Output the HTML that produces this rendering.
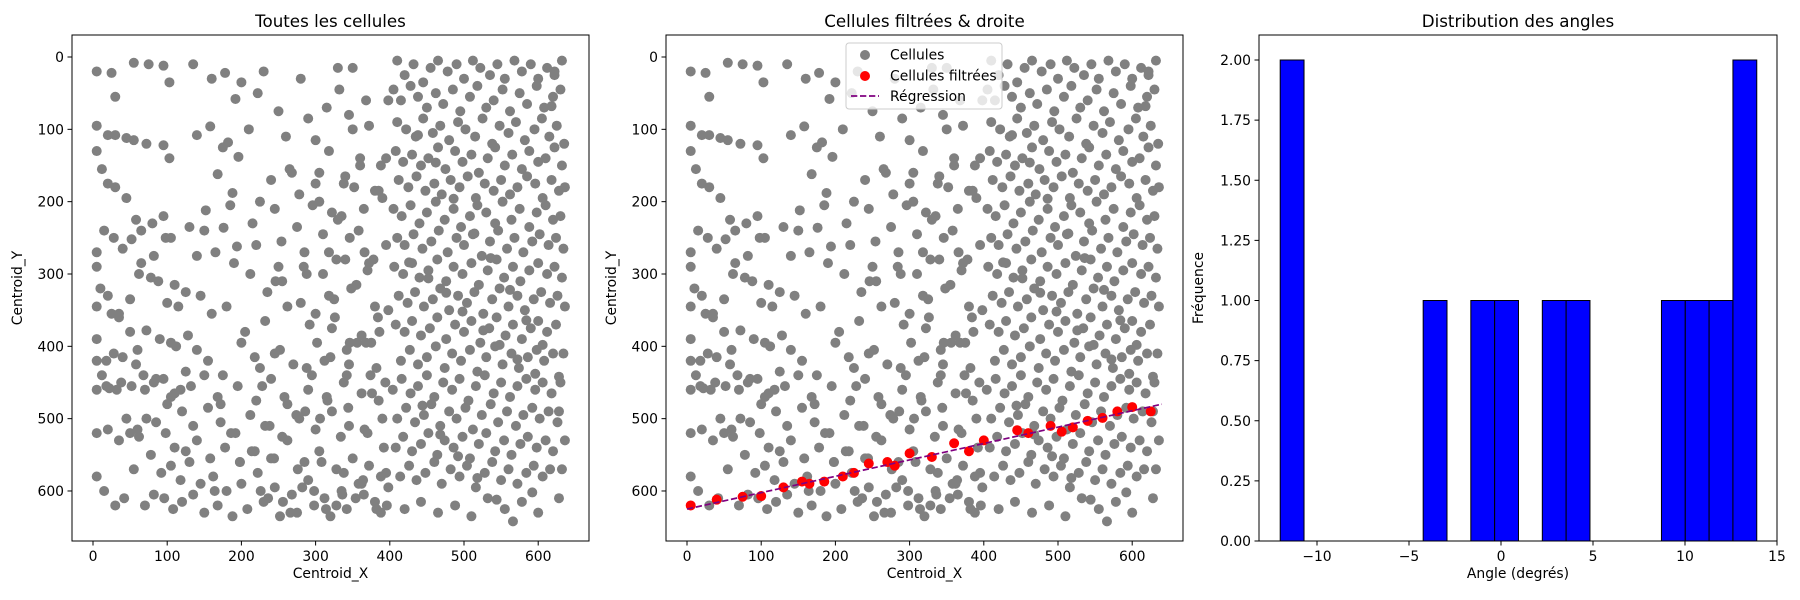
<!DOCTYPE html>
<html><head><meta charset="utf-8">
<style>
html,body{margin:0;padding:0;background:#fff;}
svg{display:block;font-family:"DejaVu Sans","Liberation Sans",sans-serif;}
</style></head>
<body>
<svg id="fig" width="1800" height="600" viewBox="0 0 1800 600" xmlns="http://www.w3.org/2000/svg"></svg>
<script>
// ---- data ----
const cellX = [5,25,30,55,75,95,103,135,160,200,230,280,330,5,20,30,45,55,72,95,103,140,175,210,260,300,350,
5,12,20,30,45,58,65,80,95,105,130,150,185,215,245,275,305,335,365,
5,15,28,40,52,65,82,98,110,125,140,165,190,220,250,285,310,340,370,
5,20,35,50,62,78,88,100,115,128,145,160,180,205,235,255,280,300,325,355,380,
5,10,25,35,50,60,72,90,105,112,125,140,155,175,200,225,245,270,295,320,345,375,
5,18,28,40,58,68,82,95,105,118,132,150,168,195,220,240,262,290,315,338,362,385,
5,12,22,38,52,70,85,100,110,120,135,155,172,192,212,232,255,278,300,322,345,370,390,
5,18,32,45,60,72,85,98,110,125,140,158,178,198,218,240,262,285,305,328,350,372,395,
5,20,35,50,62,78,92,105,118,130,145,162,180,200,222,245,268,290,312,335,358,380,398,
5,15,30,42,55,70,82,96,108,120,135,150,168,188,208,230,252,275,298,320,342,365,388,
410,420,432,445,455,465,478,490,500,512,522,535,545,555,568,578,590,600,612,622,632,
405,415,428,438,450,462,472,485,495,508,518,530,540,552,562,575,585,598,608,620,630,
410,422,435,445,458,468,480,492,502,515,525,538,548,560,570,582,595,605,615,625,635,
408,418,430,442,452,465,475,488,498,510,520,532,542,555,565,578,588,600,610,622,632,
412,425,436,448,460,470,482,494,505,516,528,540,550,562,572,585,596,606,618,628,636,
405,416,428,440,450,462,474,486,496,508,518,530,542,552,564,575,588,598,610,620,630,
410,420,432,444,456,466,478,490,500,512,524,535,546,558,568,580,592,602,614,624,634,
406,418,430,440,452,464,476,486,498,510,520,532,544,554,566,576,588,600,612,622,632,
412,424,434,446,458,468,480,492,504,514,526,538,548,560,572,582,594,604,616,626,636,
408,420,430,442,454,464,476,488,500,510,522,534,544,556,566,578,590,600,612,624,634,
415,427,438,450,462,474,484,496,508,518,530,542,552,564,574,586,598,608,620,630,
404,416,428,438,450,460,472,484,494,506,516,528,540,550,562,572,584,596,606,618,628,
410,422,434,446,456,468,480,490,502,512,524,536,546,558,570,580,592,602,614,626,636,
408,418,430,442,452,464,474,486,498,508,520,530,542,554,564,576,586,598,610,620,632,
414,426,436,448,460,470,482,494,504,516,528,538,550,560,572,584,594,606,616,628,
420,442,465,488,510,532,555,578,600,622,
332,350,368,388,300,318,340,360,380,395,310,328,346,366,384,302,322,342,362,382,398,
// extra mid-region points
250,290,315,345,372,395,265,305,338,360,385,225,278,322,352,390,240,268,296,330,358,378,
212,246,284,318,348,372,398,232,262,292,326,356,386,218,252,288,312,342,368,394,
228,258,286,316,344,376,238,274,306,334,366,392,214,244,276,308,338,362,388,
226,256,282,314,336,364,396,236,266,298,328,354,382,222,254,288,318,346,374,
172,186,198,164,178,192,158,182,196,168,188,152,176,194,
426,452,476,498,526,548,572,596,618,438,462,486,514,536,562,584,606,628,
444,468,492,518,544,566,592,614,434,458,484,506,532,556,580,604,626];
const cellY = [20,22,55,8,10,12,35,10,30,35,20,30,15,95,108,108,112,115,120,122,140,108,125,100,110,115,100,
130,155,175,180,195,225,240,230,220,250,235,240,205,230,210,235,200,220,210,
270,240,250,265,252,285,275,250,315,325,275,270,285,260,290,270,300,280,295,
290,330,355,335,300,305,310,340,345,385,330,355,345,380,325,310,340,355,335,315,345,
345,320,355,360,380,405,378,390,395,400,435,405,420,440,395,430,410,425,440,415,425,395,
390,420,410,415,425,440,450,445,470,460,455,440,470,455,475,445,480,460,470,450,465,475,
420,440,458,450,455,460,445,480,465,490,510,485,505,520,495,510,525,500,515,490,510,520,500,
460,455,460,500,515,500,505,520,540,545,530,555,540,560,545,555,530,560,545,570,555,565,575,
520,515,530,520,525,550,575,565,585,560,590,580,600,590,575,595,605,585,610,600,590,615,595,
580,600,620,610,570,620,605,610,625,615,605,630,620,635,625,615,635,630,620,635,625,605,630,
5,25,10,35,15,5,20,10,30,5,15,25,10,30,5,20,10,30,15,25,5,
45,60,40,55,70,50,65,45,75,55,40,70,60,45,75,50,65,40,70,55,45,
90,100,110,85,105,95,115,90,100,110,85,120,95,105,90,115,100,85,110,95,120,
130,145,135,150,140,125,155,130,145,135,160,140,125,150,135,155,130,145,140,125,150,
170,180,165,185,175,190,170,180,165,195,175,185,170,190,180,165,175,195,170,185,180,
210,220,205,230,215,200,225,210,235,220,205,215,230,200,225,210,235,215,205,225,220,
250,260,245,265,255,240,270,250,260,245,275,255,240,265,250,270,255,245,260,250,265,
290,300,285,305,295,280,310,290,300,285,315,295,280,305,290,310,295,285,300,290,305,
330,340,325,345,335,320,350,330,340,325,355,335,320,345,330,350,335,325,340,330,345,
370,380,365,385,375,360,390,370,380,365,395,375,360,385,370,390,375,365,380,370,
410,420,405,425,415,400,430,410,420,405,435,415,400,425,410,430,415,405,420,410,
450,460,445,465,455,440,470,450,460,445,475,455,440,465,450,470,455,445,460,450,465,
490,500,485,505,495,480,510,490,500,485,515,495,480,505,490,510,495,485,500,490,505,
530,540,525,545,535,520,550,530,540,525,555,535,520,545,530,550,535,525,540,530,545,
570,580,565,585,575,560,590,570,580,565,595,575,560,585,570,590,575,565,580,570,
610,625,615,630,620,635,610,625,615,630,
20,45,15,60,150,175,130,165,140,185,260,245,280,250,270,360,395,375,405,385,430,
60,75,85,70,80,95,140,155,160,175,150,185,200,190,215,180,195,170,160,205,225,240,
280,300,310,290,270,320,285,350,365,345,370,360,395,380,415,405,430,420,440,395,450,
455,470,490,475,485,465,510,495,500,525,515,540,545,555,570,560,575,590,580,
600,615,595,625,605,585,620,610,630,600,620,610,625,50,
255,300,330,395,440,480,520,560,600,
22,58,96,118,138,162,188,212,236,262,284,306,326,352,378,398,418,438,
68,108,146,196,244,278,322,364,398,442,482,522,552,582,612,642,602];
const filtX = [5,40,75,100,130,155,165,185,210,225,245,270,280,300,330,360,380,400,445,460,490,505,520,540,560,580,600,625];
const filtY = [620,612,608,607,595,587,590,587,580,575,562,560,565,548,553,534,545,530,516,520,510,518,512,503,499,490,484,490];
const regX = [0,640];
const regY = [625,480];
const binCounts = [2,0,0,0,0,0,1,0,1,1,0,1,1,0,0,0,1,1,1,2];
const binMin = [-12.0];
const binMax = [13.9];
const xTicksScatter = [0,100,200,300,400,500,600];
const yTicksScatter = [0,100,200,300,400,500,600];
const xTicksHist = [-10,-5,0,5,10,15];
const yTicksHist = [0.00,0.25,0.50,0.75,1.00,1.25,1.50,1.75,2.00];

const NS='http://www.w3.org/2000/svg';
const svg=document.getElementById('fig');
function mk(tag,attrs,parent){const e=document.createElementNS(NS,tag);for(const k in attrs)e.setAttribute(k,attrs[k]);(parent||svg).appendChild(e);return e;}
function txt(s,attrs,parent){const e=mk('text',attrs,parent);e.textContent=s;return e;}

function scatterAxes(x0,name,title,withFiltered){
  const g=mk('g',{});
  
  
  const L=x0,R=x0+517,T=35,B=541;
  const sx=v=>L+21+v*0.742;
  const sy=v=>57+v*0.7233;
  const clip='clip-'+name;
  const cp=mk('clipPath',{id:clip},g);mk('rect',{x:L,y:T,width:R-L,height:B-T},cp);
  const pts=mk('g',{'clip-path':'url(#'+clip+')'},g);
  
  
  const n=Math.min(cellX.length,cellY.length);
  for(let i=0;i<n;i++){
    const c=mk('circle',{cx:sx(cellX[i]),cy:sy(cellY[i]),r:5,fill:'#808080'},pts);
    
    
  }
  if(withFiltered){
    const fg=mk('g',{'clip-path':'url(#'+clip+')'},g);
    
    
    for(let i=0;i<filtX.length;i++){
      const c=mk('circle',{cx:sx(filtX[i]),cy:sy(filtY[i]),r:5,fill:'#ff0000'},fg);
      
      
    }
    const ln=mk('line',{x1:sx(regX[0]),y1:sy(regY[0]),x2:sx(regX[1]),y2:sy(regY[1]),stroke:'#800080','stroke-width':1.7,'stroke-dasharray':'6.3,2.7'},g);
    
    
    const lg=mk('g',{},g);
    
    
    mk('rect',{x:846,y:43,width:156,height:66,rx:3,fill:'#fff','fill-opacity':0.8,stroke:'#ccc'},lg);
    mk('circle',{cx:865,cy:55,r:5,fill:'#808080'},lg);
    txt('Cellules',{x:890,y:59.5,'font-size':13.9},lg);
    mk('circle',{cx:865,cy:76,r:5,fill:'#ff0000'},lg);
    txt('Cellules filtrées',{x:890,y:80.5,'font-size':13.9},lg);
    mk('line',{x1:851,y1:96,x2:879,y2:96,stroke:'#800080','stroke-width':1.7,'stroke-dasharray':'6.3,2.7'},lg);
    txt('Régression',{x:890,y:101,'font-size':13.9},lg);
  }
  mk('rect',{x:L,y:T,width:R-L,height:B-T,fill:'none',stroke:'#000','stroke-width':1},g);
  xTicksScatter.forEach(v=>{const x=sx(v);mk('line',{x1:x,y1:B,x2:x,y2:B+4.5,stroke:'#000'},g);
    const t=txt(String(v),{x:x,y:B+20,'font-size':13.9,'text-anchor':'middle'},g);
    });
  yTicksScatter.forEach(v=>{const y=sy(v);mk('line',{x1:L-4.5,y1:y,x2:L,y2:y,stroke:'#000'},g);
    const t=txt(String(v),{x:L-8,y:y+5,'font-size':13.9,'text-anchor':'end'},g);
    });
  const tt=txt(title,{x:(L+R)/2,y:27,'font-size':16.7,'text-anchor':'middle'},g);
  
  const xl=txt('Centroid_X',{x:(L+R)/2,y:578,'font-size':13.9,'text-anchor':'middle'},g);
  
  const yl=txt('Centroid_Y',{x:0,y:0,'font-size':13.9,'text-anchor':'middle',transform:'translate('+(L-50)+','+((T+B)/2)+') rotate(-90)'},g);
  
}
scatterAxes(72,'all-cells-panel','Toutes les cellules',false);
scatterAxes(666,'filtered-cells-panel','Cellules filtrées & droite',true);

(function(){
  const g=mk('g',{});
  
  
  const L=1259,R=1777,T=35,B=541;
  const sx=v=>1501+v*18.4;
  const sy=v=>B-v*240.5;
  const w=(binMax[0]-binMin[0])/binCounts.length;
  binCounts.forEach((c,i)=>{ if(c<=0) return;
    const x1=sx(binMin[0]+i*w),x2=sx(binMin[0]+(i+1)*w);
    const r=mk('rect',{x:x1,y:sy(c),width:x2-x1,height:sy(0)-sy(c),fill:'#0000ff',stroke:'#000','stroke-width':1},g);
    
    
  });
  mk('rect',{x:L,y:T,width:R-L,height:B-T,fill:'none',stroke:'#000','stroke-width':1},g);
  xTicksHist.forEach(v=>{const x=sx(v);mk('line',{x1:x,y1:B,x2:x,y2:B+4.5,stroke:'#000'},g);
    const t=txt(v<0?'\u2212'+Math.abs(v):String(v),{x:x,y:B+20,'font-size':13.9,'text-anchor':'middle'},g);
    });
  yTicksHist.forEach(v=>{const y=sy(v);mk('line',{x1:L-4.5,y1:y,x2:L,y2:y,stroke:'#000'},g);
    const t=txt(v.toFixed(2),{x:L-8,y:y+5,'font-size':13.9,'text-anchor':'end'},g);
    });
  const tt=txt('Distribution des angles',{x:(L+R)/2,y:27,'font-size':16.7,'text-anchor':'middle'},g);
  
  const xl=txt('Angle (degrés)',{x:(L+R)/2,y:578,'font-size':13.9,'text-anchor':'middle'},g);
  
  const yl=txt('Fréquence',{x:0,y:0,'font-size':13.9,'text-anchor':'middle',transform:'translate('+(L-56)+','+((T+B)/2)+') rotate(-90)'},g);
  
})();
</script>
</body></html>
